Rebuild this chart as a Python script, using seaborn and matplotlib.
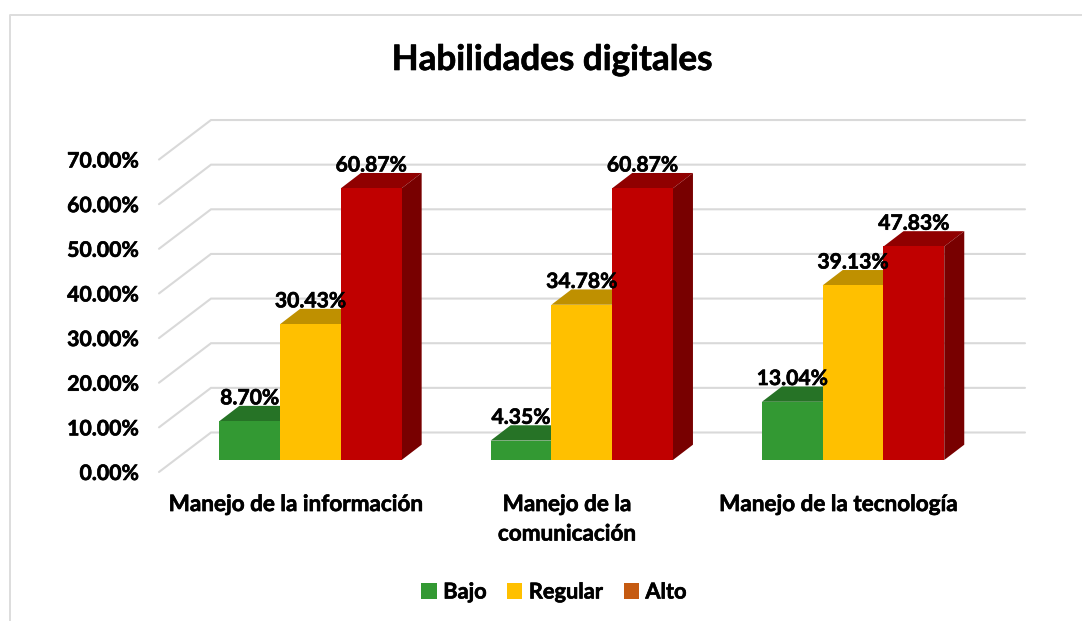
import matplotlib
matplotlib.use("Agg")
import matplotlib.pyplot as plt
import matplotlib.patheffects as pe
import matplotlib.transforms as mtransforms
from matplotlib.lines import Line2D
from matplotlib.patches import Patch, Polygon
import pandas as pd
import seaborn as sns

categories = ["Manejo de la información", "Manejo de la\ncomunicación", "Manejo de la tecnología"]
levels = ["Bajo", "Regular", "Alto"]
bajo = [8.70, 4.35, 13.04]
regular = [30.43, 34.78, 39.13]
alto = [60.87, 60.87, 47.83]
y_ticks = [0, 10, 20, 30, 40, 50, 60, 70]

front_colors = ["#339933", "#FFC000", "#C00000"]
top_colors = ["#267326", "#BF9000", "#900000"]
side_colors = ["#1E5C1E", "#997300", "#780000"]
legend_colors = ["#339933", "#FFC000", "#C55A11"]
grid_color = "#D9D9D9"

W, H = 1082, 621
X0_PX, X_STEP_PX = 310.5, 271.3
Y0_PX, Y_UNIT_PX = 460.0, 4.464

sns.set_theme(style="white")
plt.rcParams["font.family"] = ["Lato", "DejaVu Sans"]
plt.rcParams["font.weight"] = "bold"

heavier = [pe.withStroke(linewidth=0.45, foreground="black")]

df = pd.DataFrame({
    "cat": categories * 3,
    "nivel": [lv for lv in levels for _ in categories],
    "val": bajo + regular + alto,
})

fig = plt.figure(figsize=(W / 100, H / 100), dpi=100, facecolor="white")
left = X0_PX - 0.5 * X_STEP_PX
right = left + 3 * X_STEP_PX
top = Y0_PX - 70 * Y_UNIT_PX
ax = fig.add_axes([left / W, 1 - Y0_PX / H, (right - left) / W, (Y0_PX - top) / H])

sns.barplot(data=df, x="cat", y="val", hue="nivel", order=categories, hue_order=levels,
            palette=front_colors, width=0.672, gap=0, saturation=1, legend=False,
            linewidth=0, ax=ax)
ax.set_xlim(-0.5, 2.5)
ax.set_ylim(0, 70)
ax.set_xlabel("")
ax.set_ylabel("")
ax.patch.set_alpha(0)
for s in ax.spines.values():
    s.set_visible(False)


def dx(px):
    return px / X_STEP_PX


def dy(px):
    return px / Y_UNIT_PX


# walls: gridlines run from the front-left corner to the back wall
for v in y_ticks:
    ax.plot([dx(159 - X0_PX), dx(211 - X0_PX), dx(1025 - X0_PX)],
            [v - dy(12), v + dy(27.5), v + dy(27.5)],
            color=grid_color, lw=1.5, clip_on=False, zorder=1, solid_joinstyle="miter")

# depth faces of each bar
depth_x, depth_y = dx(20), dy(15.3)
for i, cont in enumerate(ax.containers):
    for bar in cont:
        x0, x1, h = bar.get_x(), bar.get_x() + bar.get_width(), bar.get_height()
        bar.set_zorder(3 + i + 0.5)
        ax.add_patch(Polygon([(x0, h), (x1, h), (x1 + depth_x, h + depth_y), (x0 + depth_x, h + depth_y)],
                             closed=True, fc=top_colors[i], ec="none", clip_on=False, zorder=3 + i))
        ax.add_patch(Polygon([(x1, 0), (x1 + depth_x, depth_y), (x1 + depth_x, h + depth_y), (x1, h)],
                             closed=True, fc=side_colors[i], ec="none", clip_on=False, zorder=3 + i))
    labels = [f"{b.get_height():.2f}%" for b in cont]
    for t in ax.bar_label(cont, labels=labels, padding=9.2, fontsize=15.2, fontweight="bold",
                          color="black", zorder=10):
        t.set_path_effects(heavier)

ax.set_yticks(y_ticks)
ax.set_yticklabels([f"{v:.2f}%" for v in y_ticks])
ax.tick_params(axis="y", length=0, pad=26, labelsize=15.3, labelcolor="black")
ax.tick_params(axis="x", length=0, pad=24.5, labelsize=16.2, labelcolor="black")
y_shift = mtransforms.ScaledTranslation(0, -12 / 100, fig.dpi_scale_trans)
x_shift = mtransforms.ScaledTranslation(-15 / 100, 0, fig.dpi_scale_trans)
for lab in ax.get_yticklabels():
    lab.set_transform(lab.get_transform() + y_shift)
    lab.set_fontweight("bold")
    lab.set_path_effects(heavier)
for lab in ax.get_xticklabels():
    lab.set_transform(lab.get_transform() + x_shift)
    lab.set_fontweight("bold")
    lab.set_linespacing(1.5)
    lab.set_path_effects(heavier)

fig.text(552 / W, 1 - 60 / H, "Habilidades digitales", ha="center", va="center",
         fontsize=25.2, fontweight="bold", color="black", path_effects=heavier)

handles = [Patch(facecolor=c, edgecolor="none", label=l) for c, l in zip(legend_colors, levels)]
leg = fig.legend(handles=handles, loc="center", bbox_to_anchor=(554 / W, 1 - 592 / H), ncol=3,
                 frameon=False, fontsize=15.7, handlelength=0.7, handleheight=0.7, handletextpad=0.3,
                 columnspacing=0.95, labelcolor="black")
for t in leg.get_texts():
    t.set_path_effects(heavier)

fig.add_artist(Line2D([10 / W, 10 / W, 1], [0, 1 - 14.5 / H, 1 - 14.5 / H], color="#DDDDDD", lw=1.4))

fig.savefig("out.png", dpi=100)
